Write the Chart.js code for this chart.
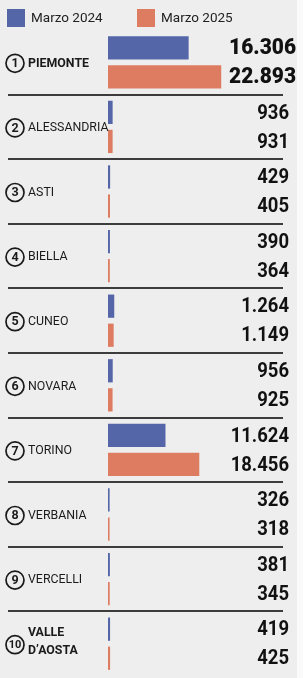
<!DOCTYPE html>
<html>
<head>
<meta charset="utf-8">
<script src="https://cdn.jsdelivr.net/npm/chart.js@4/dist/chart.umd.min.js"></script>
<style>
html,body{margin:0;padding:0;background:#fafafa;}
canvas{display:block;}
</style>
</head>
<body>
<canvas id="c" width="303" height="678"></canvas>
<script>
const categories = ['PIEMONTE','ALESSANDRIA','ASTI','BIELLA','CUNEO','NOVARA','TORINO','VERBANIA','VERCELLI','VALLE D\u2019AOSTA'];
const seriesNames = ['Marzo 2024','Marzo 2025'];
const marzo2024 = [16306, 936, 429, 390, 1264, 956, 11624, 326, 381, 419];
const marzo2025 = [22893, 931, 405, 364, 1149, 925, 18456, 318, 345, 425];
const boldRows = [0, 9];

const BLUE = '#5566a8';
const ORANGE = '#dd7c60';
const BG = '#eeeeee';

function fmt(v){
  return String(v).replace(/\B(?=(\d{3})+(?!\d))/g, '.');
}

const customDraw = {
  id: 'customDraw',
  beforeDraw(chart){
    const ctx = chart.ctx;
    ctx.save();
    ctx.fillStyle = '#fafafa';
    ctx.fillRect(0,0,chart.width,chart.height);
    ctx.fillStyle = BG;
    ctx.fillRect(0,0,297,chart.height);
    ctx.restore();
  },
  afterDatasetsDraw(chart){
    const ctx = chart.ctx;
    const y = chart.scales.y;
    ctx.save();
    // separators
    ctx.strokeStyle = '#3c3c3c';
    ctx.lineWidth = 2;
    for (let i = 0; i < categories.length - 1; i++){
      const yy = Math.round((y.getPixelForValue(i) + y.getPixelForValue(i+1)) / 2);
      ctx.beginPath();
      ctx.moveTo(8, yy);
      ctx.lineTo(283, yy);
      ctx.stroke();
    }
    // category labels
    categories.forEach((name, i) => {
      const cy = y.getPixelForValue(i) + 1;
      const bold = boldRows.includes(i);
      ctx.strokeStyle = '#1a1a1a';
      ctx.lineWidth = 1.7;
      ctx.beginPath();
      ctx.arc(15, cy, 9, 0, Math.PI*2);
      ctx.stroke();
      ctx.fillStyle = '#1a1a1a';
      ctx.textAlign = 'center';
      ctx.textBaseline = 'middle';
      ctx.font = 'bold ' + (i >= 9 ? '11px' : '12.5px') + ' Roboto';
      ctx.fillText(String(i+1), 15, cy + 0.5);
      ctx.textAlign = 'left';
      ctx.font = (bold ? 'bold ' : '') + '13px Roboto';
      const lines = bold && name.includes(' ') ? name.split(' ') : [name];
      const lh = 18;
      lines.forEach((ln, k) => {
        const ly = cy + (k - (lines.length - 1) / 2) * lh - (lines.length > 1 ? 3 : 0);
        ctx.save();
        ctx.translate(28, ly);
        ctx.scale(0.95, 1);
        ctx.fillText(ln, 0, 0);
        ctx.restore();
      });
    });
    // value labels
    chart.data.datasets.forEach((ds, di) => {
      const meta = chart.getDatasetMeta(di);
      meta.data.forEach((bar, i) => {
        const big = i === 0;
        ctx.fillStyle = '#111111';
        ctx.textAlign = 'right';
        ctx.textBaseline = 'middle';
        ctx.font = (big ? '900 22px' : 'bold 21px') + ' Roboto';
        ctx.save();
        ctx.translate(big ? 296 : 289, bar.y + 1);
        ctx.scale(big ? 0.95 : 0.88, 1);
        ctx.fillText(fmt(ds.data[i]), 0, 0);
        ctx.restore();
      });
    });
    // legend
    const lx = [7, 137];
    chart.data.datasets.forEach((ds, di) => {
      ctx.fillStyle = ds.backgroundColor;
      ctx.fillRect(lx[di], 9, 18, 18);
      ctx.fillStyle = '#222222';
      ctx.textAlign = 'left';
      ctx.textBaseline = 'middle';
      ctx.font = '13.5px Roboto';
      ctx.fillText(ds.label, lx[di] + 24, 18.5);
    });
    ctx.restore();
  }
};

new Chart(document.getElementById('c'), {
  type: 'bar',
  data: {
    labels: categories,
    datasets: [
      { label: seriesNames[0], data: marzo2024, backgroundColor: BLUE, categoryPercentage: 0.9, barPercentage: 0.8 },
      { label: seriesNames[1], data: marzo2025, backgroundColor: ORANGE, categoryPercentage: 0.9, barPercentage: 0.8 }
    ]
  },
  options: {
    indexAxis: 'y',
    responsive: false,
    animation: false,
    devicePixelRatio: 1,
    layout: { padding: { left: 108, right: 13, top: 30, bottom: 2 } },
    scales: {
      x: { display: false, min: 0, max: 36800 },
      y: { display: false }
    },
    plugins: {
      legend: { display: false },
      tooltip: { enabled: false }
    }
  },
  plugins: [customDraw]
});
</script>
</body>
</html>
